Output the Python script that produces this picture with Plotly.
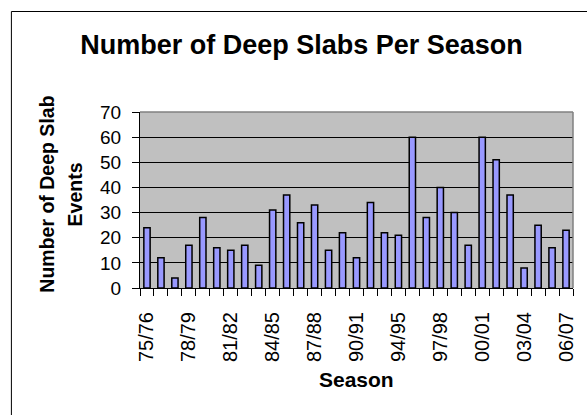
import plotly.graph_objects as go

seasons = ["75/76", "76/77", "77/78", "78/79", "79/80", "80/81", "81/82", "82/83",
           "83/84", "84/85", "85/86", "86/87", "87/88", "88/89", "89/90", "90/91",
           "92/93", "93/94", "94/95", "95/96", "96/97", "97/98", "98/99", "99/00",
           "00/01", "01/02", "02/03", "03/04", "04/05", "05/06", "06/07"]
deep_slabs = [24, 12, 4, 17, 28, 16, 15, 17, 9, 31, 37, 26, 33, 15, 22, 12,
              34, 22, 21, 60, 28, 40, 30, 17, 60, 51, 37, 8, 25, 16, 23]
y_ticks = [0, 10, 20, 30, 40, 50, 60, 70]

idx = list(range(len(seasons)))
label_idx = idx[::3]

W, H = 587, 415
ML, MR, MT, MB = 140, 11, 112, 127
PW, PH = W - ML - MR, H - MT - MB

def px_x(px):
    return (px - ML) / PW

def px_y(py):
    return (H - MB - py) / PH

FONT = "Liberation Sans, Arial, sans-serif"

fig = go.Figure(go.Bar(
    x=idx, y=deep_slabs,
    marker=dict(color="#9999FF", line=dict(color="black", width=1.5)),
    width=0.45,
))

fig.update_layout(
    width=W, height=H,
    margin=dict(l=ML, r=MR, t=MT, b=MB),
    paper_bgcolor="white", plot_bgcolor="#C0C0C0",
    showlegend=False,
    font=dict(family=FONT, color="black"),
    title=dict(text="<b>Number of Deep Slabs Per Season</b>",
               font=dict(size=27, family=FONT, color="black"),
               x=301.5 / W, xanchor="center", xref="container",
               y=1 - 45 / H, yanchor="middle", yref="container"),
)

fig.update_xaxes(
    range=[-0.5, len(seasons) - 0.5],
    tickmode="array", tickvals=label_idx, ticktext=[seasons[i] for i in label_idx],
    tickangle=-90, tickfont=dict(size=20, family=FONT, color="black"),
    ticks="outside", ticklen=7, tickcolor="rgba(0,0,0,0)",
    ticklabelstandoff=8,
    minor=dict(tickmode="linear", tick0=-0.5, dtick=1, ticks="outside",
               ticklen=7, tickcolor="black", tickwidth=1, showgrid=False),
    showline=True, linecolor="black", linewidth=1,
    showgrid=False, zeroline=False,
    title=None,
)

fig.update_yaxes(
    range=[0, 70],
    tickmode="array", tickvals=y_ticks,
    tickfont=dict(size=19, family=FONT, color="black"),
    ticks="outside", ticklen=7, tickcolor="black", ticklabelstandoff=7,
    showline=True, linecolor="black", linewidth=1,
    showgrid=True, gridcolor="black", gridwidth=1,
    zeroline=False,
)

# axis titles as annotations
fig.add_annotation(text="<b>Season</b>", xref="paper", yref="paper",
                   x=0.5, y=px_y(379), xanchor="center", yanchor="middle",
                   showarrow=False, font=dict(size=21, family=FONT, color="black"))
fig.add_annotation(text="<b>Number of Deep Slab</b>", xref="paper", yref="paper",
                   x=px_x(46), y=px_y(194), xanchor="center", yanchor="middle",
                   textangle=-90, showarrow=False,
                   font=dict(size=19.5, family=FONT, color="black"))
fig.add_annotation(text="<b>Events</b>", xref="paper", yref="paper",
                   x=px_x(75), y=px_y(194), xanchor="center", yanchor="middle",
                   textangle=-90, showarrow=False,
                   font=dict(size=19.5, family=FONT, color="black"))

# grey top/right plot border
fig.add_shape(type="line", xref="paper", yref="paper", x0=0, x1=1, y0=1, y1=1,
              line=dict(color="#808080", width=1.5), layer="above")
fig.add_shape(type="line", xref="paper", yref="paper", x0=1, x1=1, y0=0, y1=1,
              line=dict(color="#808080", width=1.5), layer="above")

# outer chart frame: only the left and top edges lie inside the picture
fig.add_shape(type="line", xref="paper", yref="paper",
              x0=px_x(10.5), x1=px_x(10.5), y0=px_y(11.5), y1=px_y(440),
              line=dict(color="black", width=1), layer="above")
fig.add_shape(type="line", xref="paper", yref="paper",
              x0=px_x(10.5), x1=px_x(640), y0=px_y(11.5), y1=px_y(11.5),
              line=dict(color="black", width=1), layer="above")

fig.write_html("out.html")
